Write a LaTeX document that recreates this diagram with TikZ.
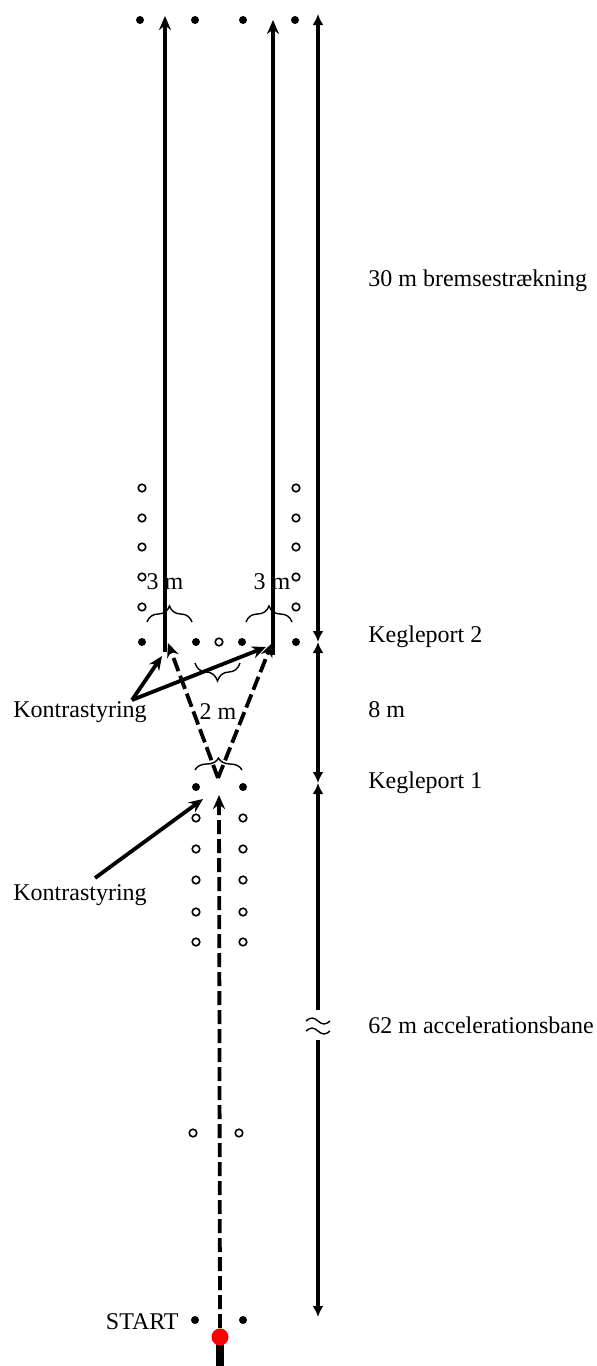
\documentclass[tikz,border=0pt]{standalone}
\usepackage{fontspec}
\setmainfont{Liberation Serif}
\usetikzlibrary{arrows.meta,decorations.pathreplacing}

\begin{document}
\begin{tikzpicture}[x=0.5pt,y=-0.5pt,every path/.style={line cap=butt}]

        \tikzset{cone/.style = {shape=circle,fill,inner sep=0pt,minimum size=4pt}}
        \tikzset{ring/.style = {shape=circle,draw,line width=0.8pt,inner sep=0pt,minimum size=3.8pt}}
        \tikzset{lane/.style = {line width=1.9pt,-{Stealth[length=7pt,width=6pt]}}}
        \tikzset{run/.style = {lane,dash pattern=on 7pt off 2.5pt}}
        \tikzset{dimtip/.tip = {Latex[length=5.5pt,width=5.5pt]}}
        \tikzset{dim/.style = {line width=1.7pt}}
        \tikzset{gap/.style = {decorate,decoration={brace,amplitude=#1},line width=0.7pt}}
        \tikzset{txt/.style = {font=\fontsize{12}{14}\selectfont,inner sep=0pt}}

        \useasboundingbox (0,0) rectangle (596,1366);

        % cones at the far end
        \node[cone] (e1) at (140,20) {};
        \node[cone] (e2) at (195,20) {};
        \node[cone] (e3) at (243,20) {};
        \node[cone] (e4) at (295,20) {};

        % lane markers beside the braking lanes
        \node[ring] (a1) at (142,488) {};
        \node[ring] (a2) at (142,518) {};
        \node[ring] (a3) at (142,547) {};
        \node[ring] (a4) at (142,577) {};
        \node[ring] (a5) at (142,607) {};
        \node[ring] (b1) at (296,488) {};
        \node[ring] (b2) at (296,518) {};
        \node[ring] (b3) at (296,547) {};
        \node[ring] (b4) at (296,577) {};
        \node[ring] (b5) at (296,607) {};

        % kegleport 2
        \node[cone] (p1) at (142,642) {};
        \node[cone] (p2) at (196,642) {};
        \node[ring] (p3) at (219,642) {};
        \node[cone] (p4) at (242,642) {};
        \node[cone] (p5) at (296,642) {};

        % kegleport 1 and the run-up
        \node[cone] (q1) at (196,787) {};
        \node[cone] (q2) at (243,787) {};
        \node[ring] (c1) at (196,818) {};
        \node[ring] (c2) at (196,849) {};
        \node[ring] (c3) at (196,880) {};
        \node[ring] (c4) at (196,912) {};
        \node[ring] (c5) at (196,942) {};
        \node[ring] (d1) at (243,818) {};
        \node[ring] (d2) at (243,849) {};
        \node[ring] (d3) at (243,880) {};
        \node[ring] (d4) at (243,912) {};
        \node[ring] (d5) at (243,942) {};
        \node[ring] (m1) at (193,1133) {};
        \node[ring] (m2) at (239,1133) {};
        \node[cone] (s1) at (195,1320) {};
        \node[cone] (s2) at (243,1320) {};

        % lanes
        \coordinate (l0) at (165,652);
        \coordinate (l1) at (165,16);
        \coordinate (r0) at (273,655);
        \coordinate (r1) at (273,20);
        \coordinate (v) at (218,778);
        \coordinate (vl) at (168,643);
        \coordinate (vr) at (272,643);
        \coordinate (g1) at (219,795);
        \coordinate (tail) at (220,1366);

        \draw[lane] (l0) to (l1);
        \draw[lane] (r0) to (r1);
        \draw[run] (v) to (vl);
        \draw[run] (v) to (vr);

        \draw[line width=4pt] (220,1340) to (tail);
        \node[circle,fill=red,inner sep=0pt,minimum size=8.5pt] (car) at (220,1337) {};
        \draw[run] (car.north) to (g1);

        % distances
        \coordinate (z0) at (318,14);
        \coordinate (z1) at (318,642);
        \coordinate (z2) at (318,783);
        \coordinate (z3) at (318,1010);
        \coordinate (z4) at (318,1040);
        \coordinate (z5) at (318,1317);
        \draw[dim,dimtip-dimtip] (z1) to (z0);
        \draw[dim,dimtip-dimtip] (z1) to (z2);
        \draw[dim,dimtip-] (z2) to (z3);
        \draw[dim,-dimtip] (z4) to (z5);
        \draw[line width=0.7pt] (306,1021) sin (312,1018) cos (318,1021) sin (324,1024) cos (330,1021);
        \draw[line width=0.7pt] (306,1031) sin (312,1028) cos (318,1031) sin (324,1034) cos (330,1031);

        % braces
        \draw[gap=8pt] (147,622) to (192,622);
        \draw[gap=8pt] (246,622) to (292,622);
        \draw[gap=9pt] (240,663) to (195,663);
        \draw[gap=6pt] (195,770) to (242,770);

        \node[txt] (w1) at (165,582) {3 m};
        \node[txt] (w2) at (272,582) {3 m};
        \node[txt] (w3) at (218,712) {2 m};

        \node[txt,anchor=west] (t1) at (368,281) {30 m bremsestrækning};
        \node[txt,anchor=west] (t2) at (368,637) {Kegleport 2};
        \node[txt,anchor=west] (t3) at (368,710) {8 m};
        \node[txt,anchor=west] (t4) at (368,783) {Kegleport 1};
        \node[txt,anchor=west] (t5) at (368,1025) {62 m accelerationsbane};
        \node[txt,anchor=east] (t6) at (179,1322) {START};

        % contra steering
        \node[txt,anchor=west] (k1) at (13,712) {Kontrastyring};
        \node[txt,anchor=west] (k2) at (13,895) {Kontrastyring};
        \coordinate (k1s) at (132,700);
        \coordinate (k2s) at (95,878);
        \coordinate (h1) at (162,656);
        \coordinate (h2) at (266,647);
        \coordinate (h3) at (203,799);
        \draw[lane] (k1s) to (h1);
        \draw[lane] (k1s) to (h2);
        \draw[lane] (k2s) to (h3);
\end{tikzpicture}
\end{document}
